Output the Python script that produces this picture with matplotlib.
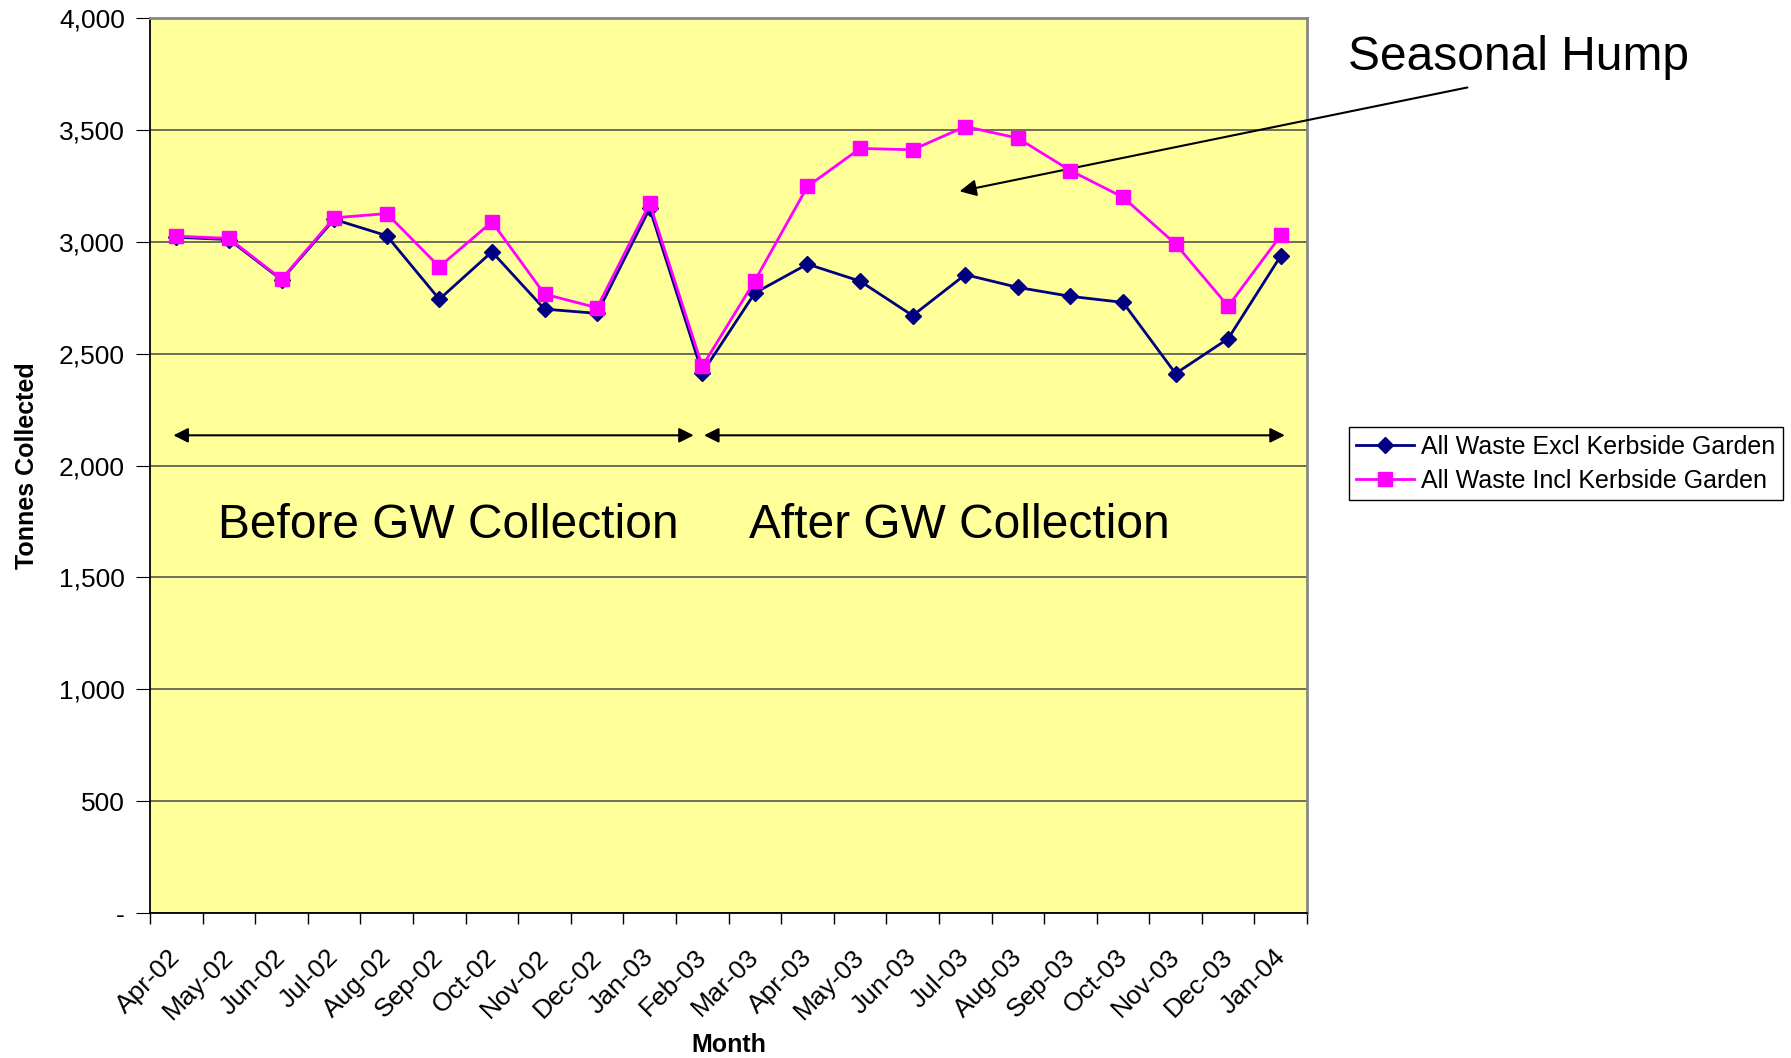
import matplotlib.pyplot as plt
import matplotlib.transforms as mtransforms
import numpy as np
from matplotlib.ticker import FuncFormatter

plt.rcParams['font.family'] = ['Liberation Sans', 'DejaVu Sans']

months = ['Apr-02', 'May-02', 'Jun-02', 'Jul-02', 'Aug-02', 'Sep-02', 'Oct-02',
          'Nov-02', 'Dec-02', 'Jan-03', 'Feb-03', 'Mar-03', 'Apr-03', 'May-03',
          'Jun-03', 'Jul-03', 'Aug-03', 'Sep-03', 'Oct-03', 'Nov-03', 'Dec-03', 'Jan-04']
excl_garden = [3020, 3010, 2830, 3100, 3027, 2743, 2955, 2699, 2680, 3149, 2414,
               2771, 2900, 2824, 2670, 2853, 2796, 2756, 2729, 2411, 2567, 2937]
incl_garden = [3025, 3015, 2833, 3107, 3126, 2888, 3089, 2766, 2705, 3171, 2443,
               2826, 3247, 3417, 3411, 3515, 3463, 3318, 3199, 2990, 2712, 3028]

fig = plt.figure(figsize=(17.91, 10.58), dpi=100)
ax = fig.add_axes([0.0838, 0.137, 0.646, 0.846])
ax.set_facecolor('#FFFF99')

x = np.arange(len(months))
ax.plot(x, excl_garden, color='#000080', marker='D', markersize=8, lw=2,
        label='All Waste Excl Kerbside Garden', zorder=3)
ax.plot(x, incl_garden, color='#FF00FF', marker='s', markersize=10, lw=2,
        label='All Waste Incl Kerbside Garden', zorder=4)

ax.set_xlim(-0.5, len(months) - 0.5)
ax.set_ylim(0, 4000)
ax.set_yticks(np.arange(0, 4001, 500))
ax.yaxis.set_major_formatter(FuncFormatter(lambda v, p: '-' if v == 0 else f'{int(v):,}'))
ax.grid(axis='y', color='#555555', lw=1.2)
ax.set_axisbelow(True)

ax.set_xticks(x)
ax.set_xticklabels(months, rotation=45, ha='right', rotation_mode='anchor', fontsize=19)
ax.set_xticks(np.arange(-0.5, len(months)), minor=True)
ax.tick_params(axis='x', which='major', length=0, pad=23)
ax.tick_params(axis='x', which='minor', length=8, width=1)
ax.tick_params(axis='y', labelsize=19, length=10, pad=8)
# nudge month labels left (after tick_params, which resets transforms)
offset = mtransforms.ScaledTranslation(-0.08, 0, fig.dpi_scale_trans)
for lab in ax.get_xticklabels():
    lab.set_transform(lab.get_transform() + offset)
for s in ['left', 'bottom']:
    ax.spines[s].set_linewidth(1.3)
for s in ['top', 'right']:
    ax.spines[s].set_color('#888888')
    ax.spines[s].set_linewidth(2)

ax.set_xlabel('Month', fontsize=18, fontweight='bold')
ax.xaxis.set_label_coords(0.5, -0.134)
ax.set_ylabel('Tonnes Collected', fontsize=18, fontweight='bold')
ax.yaxis.set_label_coords(-0.096, 0.5)

arr = dict(arrowstyle='<|-|>', color='black', lw=1.5, mutation_scale=22)
ax.annotate('', xy=(-0.11, 2135), xytext=(9.89, 2135), arrowprops=arr)
ax.annotate('', xy=(9.98, 2135), xytext=(21.13, 2135), arrowprops=arr)
ax.text(5.18, 1676, 'Before GW Collection', fontsize=34.5, ha='center', va='baseline')
ax.text(14.88, 1676, 'After GW Collection', fontsize=34.5, ha='center', va='baseline')

ax.annotate('', xy=(14.84, 3223), xytext=(24.6, 3692), annotation_clip=False,
            arrowprops=dict(arrowstyle='-|>', color='black', lw=1.5, mutation_scale=25))
fig.text(0.848, 0.934, 'Seasonal Hump', fontsize=34.5, ha='center', va='baseline')

ax.legend(loc='upper left', bbox_to_anchor=(1.036, 0.543), fontsize=18,
          frameon=True, fancybox=False, edgecolor='black', framealpha=1,
          handlelength=2.3, handletextpad=0.3, borderpad=0.3, labelspacing=0.4,
          borderaxespad=0)

fig.savefig('out.png', dpi=100)
